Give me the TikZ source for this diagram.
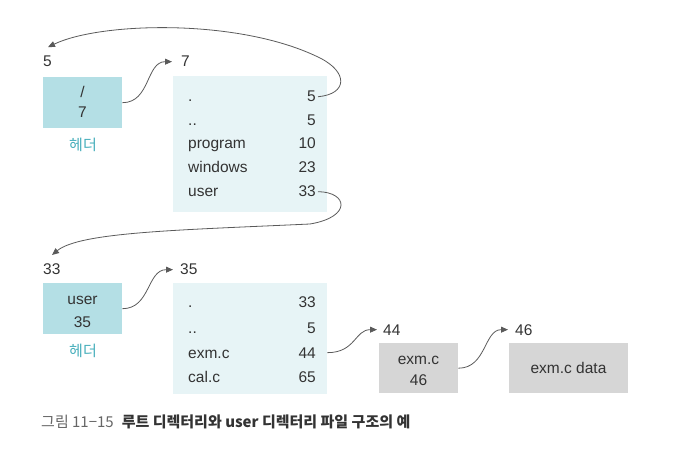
\documentclass[tikz,border=0pt]{standalone}
\usepackage{fontspec}
\setmainfont{Liberation Sans}
\newfontfamily\kofont{Noto Sans CJK KR}
\usetikzlibrary{arrows.meta}
\definecolor{hdrfill}{HTML}{B4DFE5}
\definecolor{dirfill}{HTML}{E7F4F6}
\definecolor{grayfill}{HTML}{D6D6D6}
\definecolor{txt}{HTML}{333333}
\definecolor{teal}{HTML}{45AEBB}
\definecolor{arrc}{HTML}{5A5A5A}
\definecolor{capgray}{HTML}{666666}
\tikzset{
  hdr/.style={fill=hdrfill, draw=none, anchor=north west, inner sep=0pt},
  dirbox/.style={fill=dirfill, draw=none, anchor=north west, inner sep=0pt},
  graybox/.style={fill=grayfill, draw=none, anchor=north west, inner sep=0pt},
  lbl/.style={anchor=base west, inner sep=0pt, text=txt},
  num/.style={anchor=base east, inner sep=0pt, text=txt},
  ctr/.style={anchor=base, inner sep=0pt, text=txt},
  kor/.style={inner sep=0pt, text=teal, font=\kofont\fontsize{15}{17}\selectfont},
  arr/.style={draw=arrc, line width=0.8pt, -{Triangle[length=7pt,width=6pt]}},
}
\begin{document}
\begin{tikzpicture}[x=1pt,y=-1pt, font=\fontsize{15.5}{18}\selectfont]
\useasboundingbox (0,0) rectangle (675,449);
% ---------- top row ----------
\node[hdr, minimum width=79pt, minimum height=51pt] (h1) at (43,77) {};
\node[ctr] (h1a) at (82.5,98) {/};
\node[ctr] (h1b) at (82.5,118) {7};
\node[kor] (h1k) at (83,145) {헤더};
\node[lbl] (l5) at (43,67) {5};
\node[lbl] (l7) at (181,67) {7};
\node[dirbox, minimum width=154pt, minimum height=136pt] (d1) at (173,76) {};
\node[lbl] (a1) at (188,102) {.};
\node[lbl] (a2) at (188,126) {..};
\node[lbl] (a3) at (188,149) {program};
\node[lbl] (a4) at (188,173) {windows};
\node[lbl] (a5) at (188,197) {user};
\node[num] (b1) at (316,102) {5};
\node[num] (b2) at (316,126) {5};
\node[num] (b3) at (316,149) {10};
\node[num] (b4) at (316,173) {23};
\node[num] (b5) at (316,197) {33};
% ---------- bottom row ----------
\node[hdr, minimum width=79pt, minimum height=51pt] (h2) at (43,283) {};
\node[ctr] (h2a) at (82.5,305) {user};
\node[ctr] (h2b) at (82.5,327) {35};
\node[kor] (h2k) at (83,351) {헤더};
\node[lbl] (l33) at (43,275) {33};
\node[lbl] (l35) at (180,275) {35};
\node[dirbox, minimum width=154pt, minimum height=111pt] (d2) at (173,283) {};
\node[lbl] (c1) at (188,308) {.};
\node[lbl] (c2) at (188,333) {..};
\node[lbl] (c3) at (188,358) {exm.c};
\node[lbl] (c4) at (188,382) {cal.c};
\node[num] (e1) at (316,308) {33};
\node[num] (e2) at (316,333) {5};
\node[num] (e3) at (316,358) {44};
\node[num] (e4) at (316,382) {65};
\node[lbl] (l44) at (383,335) {44};
\node[graybox, minimum width=79pt, minimum height=50pt] (g1) at (379,343) {};
\node[ctr] (g1a) at (418.5,364) {exm.c};
\node[ctr] (g1b) at (418.5,385) {46};
\node[lbl] (l46) at (515,335) {46};
\node[graybox, minimum width=119pt, minimum height=50pt] (g2) at (509,343) {};
\node[ctr] (g2a) at (568.5,373) {exm.c data};
% ---------- caption ----------
\node[anchor=west, inner sep=0pt, font=\kofont\fontsize{15}{17}\selectfont] (cap) at (41,422)
  {{\color{capgray}그림 11−15}\hspace{8pt}{\color{txt}\bfseries 루트 디렉터리와 user 디렉터리 파일 구조의 예}};
% ---------- arrows ----------
\draw[arr] (h1.east) .. controls +(28,0) and +(-26,0) .. ([xshift=-9pt]l7.west);
\draw[arr] ([xshift=2pt]b1.east) .. controls (348,94) and (348,72) .. (320,58)
  .. controls (240,18) and (100,22) .. ([xshift=5pt,yshift=9pt]l5.north west);
\draw[arr] ([xshift=2pt]b5.east) .. controls (348,192) and (352,217) .. (310,224)
  .. controls (180,230) and (80,232) .. ([xshift=9pt,yshift=9pt]l33.north west);
\draw[arr] (h2.east) .. controls +(28,0) and +(-26,0) .. ([xshift=-7pt]l35.west);
\draw[arr] (d2.east |- e3) .. controls +(28,0) and +(-22,0) .. ([xshift=-6pt]l44.west);
\draw[arr] (g1.east) .. controls +(28,0) and +(-24,0) .. ([xshift=-7pt]l46.west);
\end{tikzpicture}
\end{document}
